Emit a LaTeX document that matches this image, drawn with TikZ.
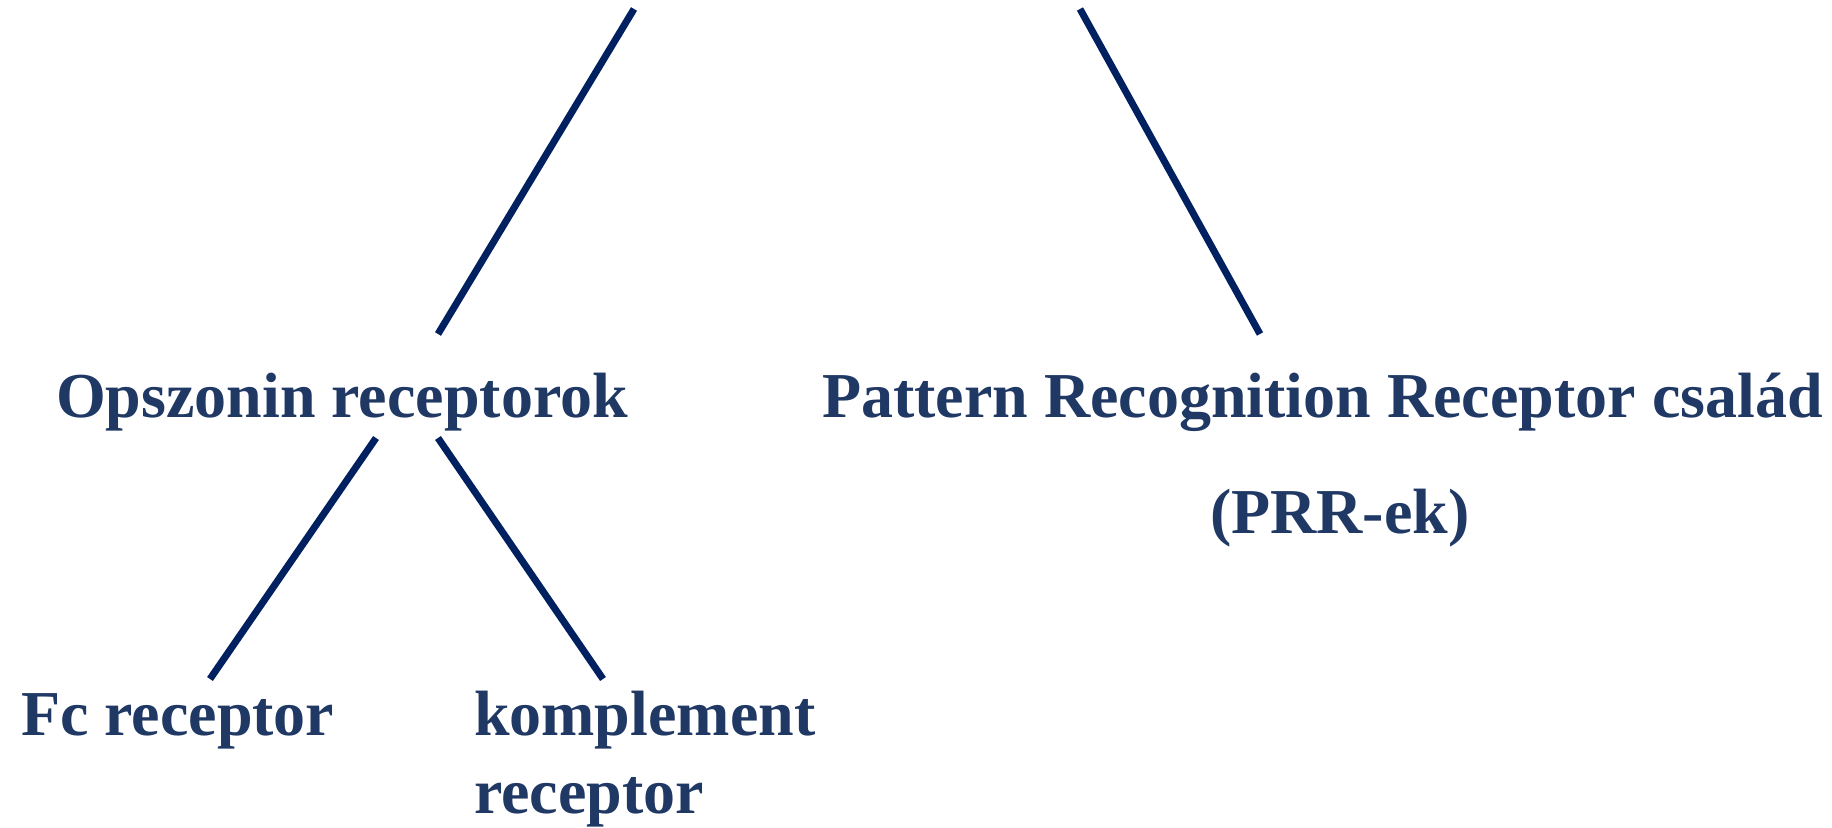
\documentclass[tikz,border=0pt]{standalone}
\usepackage{fontspec}
\setmainfont{Liberation Serif}
\definecolor{labelblue}{RGB}{31,56,100}
\definecolor{linkblue}{RGB}{0,32,96}
\begin{document}
\begin{tikzpicture}[x=0.5pt,y=-0.5pt,
  label text/.style={anchor=base west,inner sep=0pt,outer sep=0pt,text=labelblue,
    font=\fontsize{32}{39}\selectfont\bfseries},
  link/.style={draw=linkblue,line width=3.5pt}]
  \useasboundingbox (0,0) rectangle (1832,828);

  % labels
  \node[label text] (opsz) at (56,418) {Opszonin receptorok};
  \node[label text] (prr) at (822,418) {Pattern Recognition Receptor család};
  \node[label text] (prrek) at (1210,534) {(PRR-ek)};
  \node[label text] (fc) at (21,735) {Fc receptor};
  \node[label text] (kompl) at (474,735) {komplement};
  \node[label text] (kompl2) at (474,813) {receptor};

  % free ends of the branch lines
  \coordinate (topA) at (634,9);
  \coordinate (opszTop) at (438,334);
  \coordinate (topB) at (1080,9);
  \coordinate (prrTop) at (1260,334);
  \coordinate (opszL) at (376,438);
  \coordinate (fcTop) at (210,679);
  \coordinate (opszR) at (438,438);
  \coordinate (komplTop) at (603,679);

  % branches
  \draw[link] (topA) -- (opszTop);
  \draw[link] (topB) -- (prrTop);
  \draw[link] (opszL) -- (fcTop);
  \draw[link] (opszR) -- (komplTop);
\end{tikzpicture}
\end{document}
